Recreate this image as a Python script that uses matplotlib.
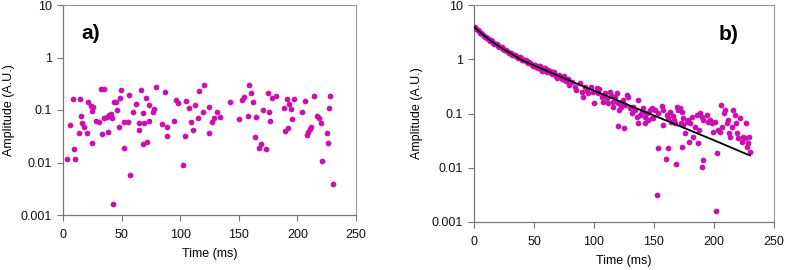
import numpy as np
import matplotlib
matplotlib.use("Agg")
import matplotlib.pyplot as plt
from matplotlib.ticker import FixedLocator, FuncFormatter

plt.rcParams['font.family'] = ['Liberation Sans', 'DejaVu Sans']

# Panel a) : noise only
a_time = [3.7, 5.7, 8.3, 9.4, 10.2, 13.7, 14.5, 15.4, 16.2, 17.9, 20.2, 21.6, 23.6, 24.5, 25.0,
          25.9, 28.2, 30.7, 32.7, 35.0, 33.5, 35.2, 37.3, 38.1, 39.5, 40.7, 41.6, 42.4, 43.5, 45.0,
          46.1, 47.5, 48.6, 49.5, 51.8, 52.3, 55.2, 56.1, 56.9, 59.7, 62.3, 64.8, 64.6, 66.6, 68.0,
          68.5, 69.1, 70.6, 71.4, 73.1, 73.6, 76.8, 77.9, 79.1, 84.5, 87.3, 88.5, 89.0, 94.5, 96.7,
          97.9, 102.4, 104.4, 105.2, 107.8, 109.0, 110.7, 112.6, 114.9, 115.8, 119.5, 120.3, 124.3,
          124.8, 127.4, 129.1, 131.4, 133.7, 142.7, 149.9, 152.7, 154.4, 158.1, 159.0, 160.7, 162.4,
          163.6, 164.4, 167.0, 168.7, 170.6, 173.2, 174.9, 176.0, 176.9, 178.1, 182.0, 188.6, 189.4,
          191.1, 192.2, 192.8, 194.8, 195.6, 197.4, 203.7, 206.2, 208.2, 209.3, 210.5, 211.6, 214.2,
          216.5, 218.2, 219.9, 221.2, 225.3, 226.1, 227.0, 227.8, 230.4]
a_amp = [0.0117, 0.0525, 0.164, 0.0183, 0.0115, 0.0365, 0.164, 0.078, 0.0558, 0.048, 0.0365, 0.142,
         0.119, 0.097, 0.0232, 0.116, 0.061, 0.060, 0.251, 0.251, 0.0344, 0.0695, 0.0736, 0.0386,
         0.0793, 0.085, 0.0713, 0.00164, 0.144, 0.144, 0.0986, 0.048, 0.171, 0.244, 0.0583, 0.0191,
         0.0583, 0.193, 0.00578, 0.093, 0.132, 0.0416, 0.0558, 0.244, 0.0225, 0.0865, 0.0558, 0.167,
         0.0245, 0.0625, 0.126, 0.093, 0.103, 0.270, 0.0535, 0.217, 0.048, 0.0324, 0.061, 0.155,
         0.134, 0.00908, 0.0324, 0.148, 0.108, 0.060, 0.0422, 0.126, 0.0695, 0.233, 0.0904, 0.299,
         0.0365, 0.112, 0.060, 0.0695, 0.0916, 0.0736, 0.142, 0.0683, 0.157, 0.179, 0.078, 0.299,
         0.211, 0.140, 0.031, 0.0736, 0.0189, 0.0228, 0.1, 0.0181, 0.211, 0.0916, 0.0625, 0.171,
         0.185, 0.108, 0.0398, 0.160, 0.0454, 0.129, 0.103, 0.0675, 0.160, 0.0904, 0.150, 0.033,
         0.0381, 0.0428, 0.048, 0.187, 0.0759, 0.0705, 0.0573, 0.0107, 0.036, 0.0232, 0.109, 0.187,
         0.00385]

# Panel b) : decay signal
b_time = [1, 3, 5, 7, 9, 11, 13, 15, 17, 19, 21, 23, 25, 27, 29, 31, 33, 35, 37, 39,
          41, 43, 45, 47, 49, 51, 53, 55, 57, 59, 61, 63, 65, 67, 69, 71, 73, 75, 77, 79,
          2, 4, 6, 8, 10, 12, 14, 16, 18, 20, 22, 24, 26, 28, 30, 32, 34, 36, 38, 40,
          42, 44, 46, 48, 50, 52, 54, 56, 58, 60, 62, 64, 66, 68, 70, 72, 74, 76, 78,
          81.4, 84.2, 85.0, 88.3, 89.7, 90.6, 92.5, 93.9, 95.3, 97.2, 99.4, 100.0, 102.2, 103.6,
          104.4, 106.4, 107.8, 109.2, 110.6, 111.9, 113.3, 113.9, 115.6, 116.1, 117.5, 118.9,
          120.3, 121.1, 122.2, 123.1, 124.4, 125.8, 127.2, 128.6, 130.0, 131.4, 132.8, 134.2,
          135.6, 136.9, 138.3, 139.7, 141.1, 142.5, 143.9, 145.3, 146.7, 148.1, 119.7, 125.0,
          136.9, 142.5,
          148.1, 150.9, 149.5, 153.6, 156.4, 157.8, 157.8, 160.6, 162.0, 163.4, 163.9, 165.6,
          166.7, 168.9, 170.3, 171.7, 173.1, 173.9, 167.5, 172.2, 174.5, 175.9, 177.3, 178.6,
          180.0, 179.5, 181.4, 182.8, 184.2, 185.6, 187.0, 187.8, 188.4, 189.8, 191.1, 193.9,
          195.3, 196.7, 198.1, 199.5, 200.9, 203.6, 205.0, 205.9, 206.4, 208.4, 209.2, 210.6,
          212.0, 212.8, 213.4, 214.8, 216.1, 217.5, 218.4, 219.5, 220.3, 221.7, 223.1, 224.5,
          225.9, 226.7, 227.3, 228.6, 230.0, 229.5, 202.3,
          153.6, 162.0, 160.0, 168.4, 173.1, 189.8, 191.1, 152.8, 201.4]
b_amp = [3.9, 3.5, 3.1, 2.95, 2.6, 2.5, 2.2, 2.15, 1.95, 1.88, 1.68, 1.65, 1.48, 1.47, 1.32,
         1.33, 1.18, 1.17, 1.05, 1.07, 0.95, 0.96, 0.85, 0.87, 0.76, 0.8, 0.7, 0.75, 0.62, 0.68,
         0.57, 0.62, 0.53, 0.57, 0.45, 0.52, 0.44, 0.5, 0.39, 0.33,
         3.6, 3.3, 3.0, 2.72, 2.58, 2.33, 2.22, 2.0, 1.92, 1.75, 1.7, 1.55, 1.5, 1.38, 1.33,
         1.22, 1.2, 1.1, 1.08, 0.98, 0.98, 0.88, 0.88, 0.8, 0.8, 0.72, 0.76, 0.66, 0.7, 0.6,
         0.63, 0.55, 0.58, 0.5, 0.5, 0.47, 0.48, 0.42, 0.43,
         0.386, 0.313, 0.271, 0.360, 0.252, 0.199, 0.303, 0.271, 0.235, 0.313, 0.252, 0.154,
         0.291, 0.235, 0.279, 0.204, 0.165, 0.235, 0.190, 0.154, 0.252, 0.219, 0.165, 0.134,
         0.204, 0.235, 0.154, 0.116, 0.134, 0.165, 0.177, 0.143, 0.219, 0.204, 0.124, 0.101,
         0.134, 0.116, 0.0874, 0.177, 0.094, 0.108, 0.124, 0.0874, 0.101, 0.0759, 0.116, 0.0815,
         0.0597, 0.0533, 0.0659, 0.0659,
         0.124, 0.116, 0.0815, 0.101, 0.137, 0.116, 0.0614, 0.094, 0.0815, 0.108, 0.0707, 0.090,
         0.0759, 0.134, 0.116, 0.124, 0.108, 0.0815, 0.0659, 0.0659, 0.0614, 0.0431, 0.0707,
         0.0759, 0.0659, 0.0303, 0.0874, 0.0374, 0.0571, 0.094, 0.0282, 0.0497, 0.101, 0.0874,
         0.0759, 0.094, 0.0707, 0.0759, 0.0659, 0.0462, 0.0707, 0.0497, 0.0462, 0.1435, 0.0571,
         0.101, 0.116, 0.0659, 0.0759, 0.0431, 0.0374, 0.0571, 0.116, 0.094, 0.0659, 0.0431,
         0.0348, 0.0815, 0.0303, 0.0374, 0.0348, 0.0659, 0.0244, 0.0282, 0.0198, 0.0374, 0.0184,
         0.0234, 0.0228, 0.0143, 0.0117, 0.0238, 0.0105, 0.0139, 0.0031, 0.00157]

# fitted curve
fit_time = [0, 5, 10, 15, 20, 25, 30, 40, 50, 60, 70, 80, 100, 120, 140, 160, 180, 200, 230]
fit_amp = [3.95, 3.14, 2.55, 2.11, 1.77, 1.51, 1.31, 0.96, 0.77, 0.62, 0.50, 0.40, 0.263,
           0.172, 0.113, 0.0745, 0.0489, 0.0321, 0.0168]

x_ticks = [0, 50, 100, 150, 200, 250]
y_ticks = [0.001, 0.01, 0.1, 1, 10]

DOT = '#CC10B0'
W, H = 787, 270
fig = plt.figure(figsize=(W / 100, H / 100), dpi=100)

ax_a = fig.add_axes([63 / W, 1 - 215 / H, 293 / W, 210 / H])
ax_b = fig.add_axes([474 / W, 1 - 222 / H, 300 / W, 217 / H])

ax_a.scatter(a_time, a_amp, s=17, color=DOT, linewidths=0, zorder=3)
ax_b.scatter(b_time, b_amp, s=17, color=DOT, linewidths=0, zorder=3)
ax_b.plot(fit_time, fit_amp, color='black', lw=1.3, zorder=4)

for ax, tag, tx, ylx in [(ax_a, 'a)', 0.062, -0.163), (ax_b, 'b)', 0.815, -0.17)]:
    ax.set_yscale('log')
    ax.set_xlim(0, 250)
    ax.set_ylim(0.001, 10)
    ax.xaxis.set_major_locator(FixedLocator(x_ticks))
    ax.yaxis.set_major_locator(FixedLocator(y_ticks))
    ax.yaxis.set_minor_locator(FixedLocator([]))
    ax.yaxis.set_major_formatter(FuncFormatter(lambda v, p: '%g' % v))
    ax.tick_params(labelsize=9, length=4, width=0.8, direction='out',
                   top=False, right=False, colors='#777777', labelcolor='#111111')
    ax.tick_params(axis='x', pad=6)
    ax.tick_params(axis='y', pad=4)
    for side in ['top', 'right']:
        ax.spines[side].set_color('#999999')
        ax.spines[side].set_linewidth(0.8)
    for side in ['left', 'bottom']:
        ax.spines[side].set_color('#777777')
        ax.spines[side].set_linewidth(0.9)
    ax.set_xlabel('Time (ms)', fontsize=9, labelpad=5)
    ax.set_ylabel('Amplitude (A.U.)', fontsize=9)
    ax.yaxis.set_label_coords(ylx, 0.5)
    ax.text(tx, 0.865, tag, transform=ax.transAxes, fontsize=15, fontweight='bold',
            va='center', ha='left')

fig.savefig('out.png', dpi=100)
